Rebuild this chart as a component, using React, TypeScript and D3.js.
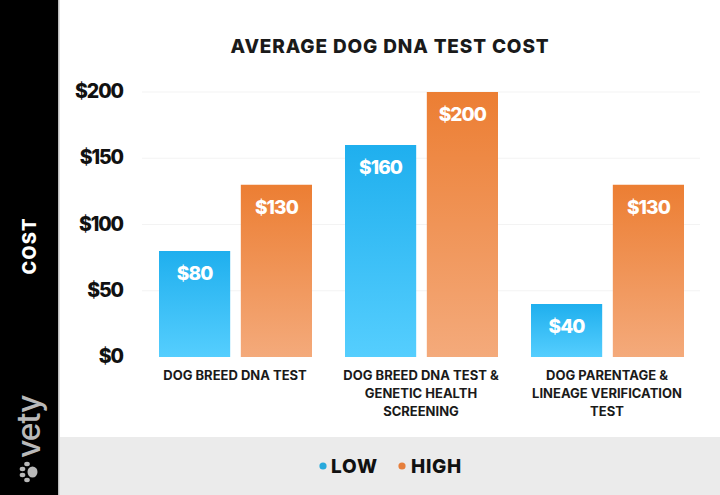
import React from 'react';
import * as d3 from 'd3';

const categories = ['Dog Breed DNA Test', 'Dog Breed DNA Test & Genetic Health Screening', 'Dog Parentage & Lineage Verification Test'];
const categoryLines = [
  ['DOG BREED DNA TEST'],
  ['DOG BREED DNA TEST &', 'GENETIC HEALTH', 'SCREENING'],
  ['DOG PARENTAGE &', 'LINEAGE VERIFICATION', 'TEST'],
];
const seriesNames = ['LOW', 'HIGH'];
const lowValues = [80, 160, 40];
const highValues = [130, 200, 130];
const yTicks = [0, 50, 100, 150, 200];

const W = 720;
const H = 495;
const font = 'Inter, Lato, sans-serif';

const x0 = d3.scaleBand<string>().domain(categories).range([142, 700]);
const x1 = d3.scaleBand<string>().domain(seriesNames).range([17, 170]).paddingInner(0.13);
const y = d3.scaleLinear().domain([0, 200]).range([357, 92]);

const barLabel = (v: number) => `$${v}`;

const App: React.FC = () => {
  const series = [
    { name: seriesNames[0], values: lowValues, fill: 'url(#lowGrad)', dot: '#27a9dc' },
    { name: seriesNames[1], values: highValues, fill: 'url(#highGrad)', dot: '#e67f3c' },
  ];

  return (
    <div style={{ position: 'absolute', left: 0, top: 0 }}>
      <svg width={W} height={H} style={{ display: 'block', fontFamily: font }}>
        <defs>
          <linearGradient id="lowGrad" x1="0" y1="0" x2="0" y2="1">
            <stop offset="0" stopColor="#1fafee" />
            <stop offset="1" stopColor="#55cefe" />
          </linearGradient>
          <linearGradient id="highGrad" x1="0" y1="0" x2="0" y2="1">
            <stop offset="0" stopColor="#ec7e33" />
            <stop offset="1" stopColor="#f4aa7b" />
          </linearGradient>
        </defs>

        <rect width={W} height={H} fill="#fff" />

        {/* side strip */}
        <rect x={0} y={0} width={58} height={H} fill="#000" />
        <rect x={58} y={0} width={1.5} height={H} fill="#bbb" />
        <text transform="translate(36,246) rotate(-90)" textAnchor="middle" fill="#fff" fontSize={18.5} fontWeight={800} letterSpacing={1}>COST</text>
        <text transform="translate(40,458) rotate(-90)" fill="#b9b9b9" fontSize={32} fontWeight={500} letterSpacing={-1}>vety</text>
        <g transform="translate(29,472) rotate(-90)" fill="#b9b9b9">
          <ellipse cx={0} cy={3.5} rx={5.5} ry={5} />
          <ellipse cx={-8} cy={-2} rx={2.2} ry={2.8} />
          <ellipse cx={-3} cy={-6.5} rx={2.2} ry={2.8} />
          <ellipse cx={3} cy={-6.5} rx={2.2} ry={2.8} />
          <ellipse cx={8} cy={-2} rx={2.2} ry={2.8} />
        </g>

        <text x={390} y={53} textAnchor="middle" fill="#1a1a1a" fontSize={19} fontWeight={800} letterSpacing={0.85}>AVERAGE DOG DNA TEST COST</text>

        {/* grid and y axis */}
        {yTicks.map(t => (
          <g key={t}>
            {t > 0 && <line x1={142} x2={700} y1={y(t)} y2={y(t)} stroke="#f3f3f3" strokeWidth={1} />}
            <text x={123} y={y(t) + 6} textAnchor="end" fill="#111" fontSize={19.5} fontWeight={800} letterSpacing={-1.1}>{`$${t}`}</text>
          </g>
        ))}

        {/* bars */}
        {categories.map((c, i) => (
          <g key={c} transform={`translate(${x0(c)},0)`}>
            {series.map(s => {
              const v = s.values[i];
              const bx = x1(s.name) as number;
              return (
                <g key={s.name}>
                  <rect x={bx} y={y(v)} width={x1.bandwidth()} height={y(0) - y(v)} fill={s.fill} />
                  <text x={bx + x1.bandwidth() / 2} y={y(v) + 29} textAnchor="middle" fill="#fff" fontSize={19} fontWeight={800} letterSpacing={-0.9}>{barLabel(v)}</text>
                </g>
              );
            })}
            {categoryLines[i].map((ln, k) => (
              <text key={k} x={x0.bandwidth() / 2} y={380 + k * 18} textAnchor="middle" fill="#1a1a1a" fontSize={13} fontWeight={700}>{ln}</text>
            ))}
          </g>
        ))}

        {/* legend */}
        <rect x={60} y={437} width={660} height={58} fill="#ebebeb" />
        <circle cx={323} cy={466} r={3.6} fill={series[0].dot} />
        <text x={331} y={473} fill="#111" fontSize={19} fontWeight={800} letterSpacing={0.9}>{seriesNames[0]}</text>
        <circle cx={402} cy={466} r={3.6} fill={series[1].dot} />
        <text x={411} y={473} fill="#111" fontSize={19} fontWeight={800} letterSpacing={0.7}>{seriesNames[1]}</text>
      </svg>
    </div>
  );
};

export default App;
